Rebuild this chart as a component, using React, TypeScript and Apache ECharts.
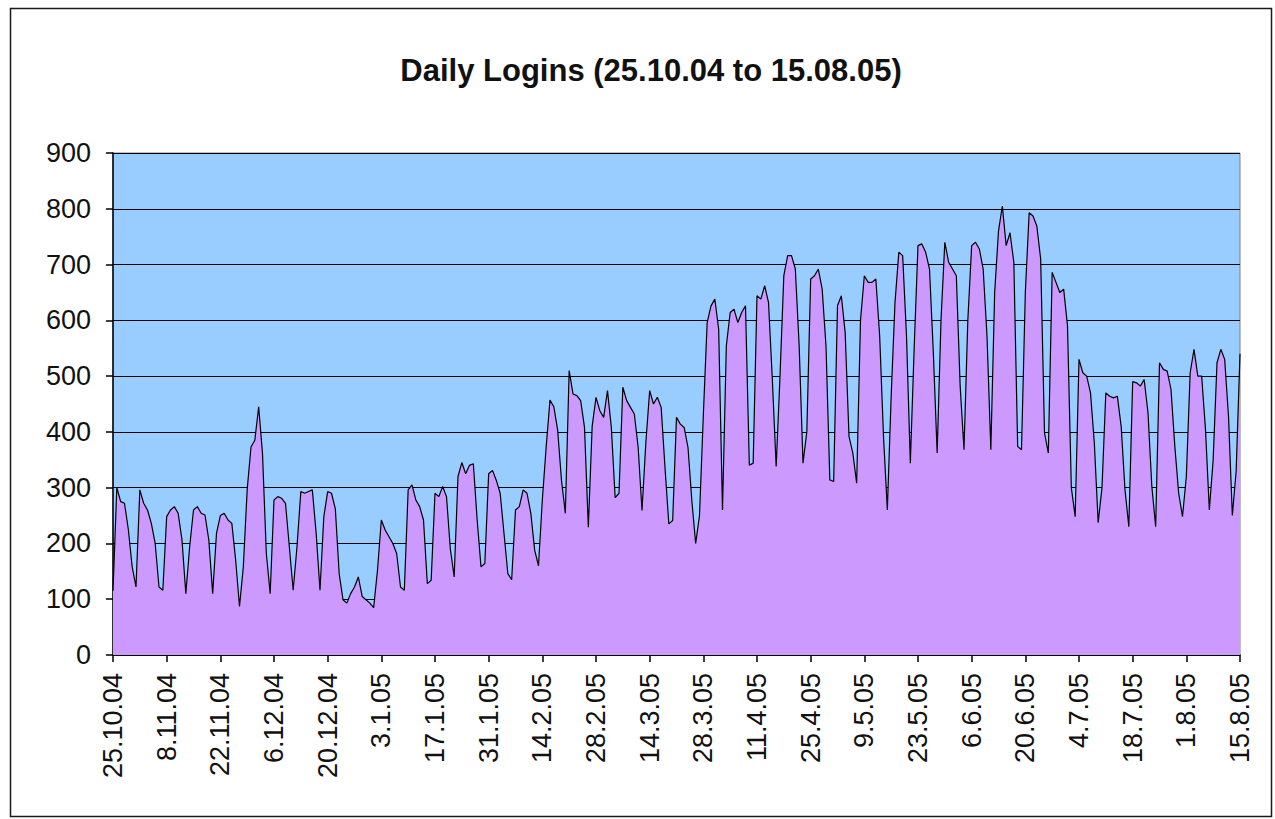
import React, { useEffect, useRef } from "react";
import * as echarts from "echarts";

// Daily login counts (25.10.04 .. 15.08.05)
const oct04 = [115, 300, 275, 272, 225, 158, 122];
const nov04 = [296, 272, 260, 236, 200, 122, 116, 248, 260, 266, 254, 206, 110, 194, 260, 266, 254, 251, 206, 110, 218, 250, 254, 242, 236, 170, 87, 158, 296, 373];
const dec04 = [385, 445, 361, 182, 110, 278, 284, 281, 272, 194, 116, 194, 293, 290, 293, 296, 218, 116, 248, 293, 290, 262, 146, 99, 93, 110, 122, 140, 105, 99, 93];
const jan05 = [85, 152, 242, 224, 212, 200, 182, 122, 116, 296, 305, 278, 266, 242, 128, 134, 290, 284, 302, 284, 190, 140, 320, 345, 325, 340, 343, 242, 158, 164, 325];
const feb05 = [331, 313, 290, 218, 146, 135, 260, 266, 296, 290, 254, 188, 160, 278, 373, 457, 445, 403, 313, 254, 510, 468, 465, 456, 408, 229, 410, 462];
const mar05 = [438, 426, 474, 408, 282, 290, 480, 456, 444, 432, 372, 259, 380, 474, 450, 462, 444, 336, 235, 241, 426, 414, 408, 372, 277, 200, 250, 430, 596, 626, 638];
const apr05 = [584, 260, 554, 614, 620, 596, 614, 626, 340, 344, 644, 638, 662, 632, 494, 338, 500, 680, 716, 716, 692, 554, 344, 400, 674, 680, 692, 656, 554, 314];
const may05 = [311, 626, 644, 578, 392, 362, 308, 600, 680, 668, 668, 674, 572, 392, 260, 464, 632, 722, 716, 572, 344, 550, 734, 737, 722, 692, 542, 362, 600, 740, 704];
const jun05 = [692, 680, 482, 368, 600, 734, 740, 728, 692, 572, 368, 650, 760, 805, 734, 757, 704, 374, 368, 650, 793, 787, 769, 710, 398, 362, 686, 668, 650, 656];
const jul05 = [590, 300, 248, 530, 506, 500, 470, 380, 237, 300, 470, 464, 461, 464, 410, 296, 230, 490, 488, 482, 494, 434, 302, 230, 524, 512, 509, 476, 374, 290, 248];
const aug05 = [320, 506, 548, 500, 500, 404, 260, 350, 524, 548, 530, 428, 250, 330, 540];

const tickLabels = [
  "25.10.04", "8.11.04", "22.11.04", "6.12.04", "20.12.04", "3.1.05", "17.1.05", "31.1.05",
  "14.2.05", "28.2.05", "14.3.05", "28.3.05", "11.4.05", "25.4.05", "9.5.05", "23.5.05",
  "6.6.05", "20.6.05", "4.7.05", "18.7.05", "1.8.05", "15.8.05",
];
const tickStep = 14;
const startDate = { y: 2004, m: 9, d: 25 };

const values = [
  ...oct04, ...nov04, ...dec04, ...jan05, ...feb05, ...mar05,
  ...apr05, ...may05, ...jun05, ...jul05, ...aug05,
];

function buildCategories(n: number): string[] {
  const out: string[] = [];
  for (let i = 0; i < n; i++) {
    const dt = new Date(Date.UTC(startDate.y, startDate.m, startDate.d + i));
    out.push(`${dt.getUTCDate()}.${dt.getUTCMonth() + 1}.${String(dt.getUTCFullYear()).slice(2)}`);
  }
  return out;
}

const FONT = 'Arial, "Liberation Sans", sans-serif';

export default function App() {
  const ref = useRef<HTMLDivElement>(null);
  useEffect(() => {
    if (!ref.current) return;
    const chart = echarts.init(ref.current, null, { renderer: "svg" });
    const categories = buildCategories(values.length);
    chart.setOption({
      animation: false,
      backgroundColor: "#ffffff",
      grid: {
        left: 113,
        right: 35,
        top: 153,
        bottom: 164,
        show: true,
        backgroundColor: "#99CCFF",
        borderColor: "#808080",
        borderWidth: 1,
      },
      graphic: [
        {
          type: "rect",
          shape: { x: 10.5, y: 8.5, width: 1261, height: 808 },
          style: { fill: "none", stroke: "#1a1a1a", lineWidth: 1.5 },
          silent: true,
        },
        {
          type: "text",
          x: 651,
          y: 70,
          style: {
            text: "Daily Logins (25.10.04 to 15.08.05)",
            fontFamily: FONT,
            fontSize: 31,
            fontWeight: "bold",
            fill: "#111",
            textAlign: "center",
            textVerticalAlign: "middle",
          },
        },
      ],
      xAxis: {
        type: "category",
        data: categories,
        boundaryGap: false,
        axisLine: { show: true, lineStyle: { color: "#000", width: 1.5 } },
        axisTick: {
          show: true,
          interval: (i: number) => i % tickStep === 0,
          length: 7,
          lineStyle: { color: "#000", width: 1.5 },
        },
        axisLabel: {
          interval: (i: number) => i % tickStep === 0,
          rotate: 90,
          margin: 18,
          fontFamily: FONT,
          fontSize: 27,
          color: "#111",
          formatter: (_v: string, i: number) => tickLabels[Math.round(i / tickStep)] ?? "",
        },
        splitLine: { show: false },
      },
      yAxis: {
        type: "value",
        min: 0,
        max: 900,
        interval: 100,
        axisLine: { show: true, lineStyle: { color: "#000", width: 1.5 } },
        axisTick: { show: true, length: 7, lineStyle: { color: "#000", width: 1.5 } },
        axisLabel: { margin: 22, fontFamily: FONT, fontSize: 27, color: "#111" },
        splitLine: { show: true, lineStyle: { color: "#000", width: 1.2 } },
      },
      series: [
        {
          type: "line",
          data: values,
          symbol: "none",
          lineStyle: { color: "#000", width: 1.2 },
          areaStyle: { color: "#CC99FF", opacity: 1 },
          z: 1,
        },
      ],
    });
    return () => chart.dispose();
  }, []);
  return (
    <div
      ref={ref}
      style={{ position: "absolute", left: 0, top: 0, width: 1275, height: 819 }}
    />
  );
}
